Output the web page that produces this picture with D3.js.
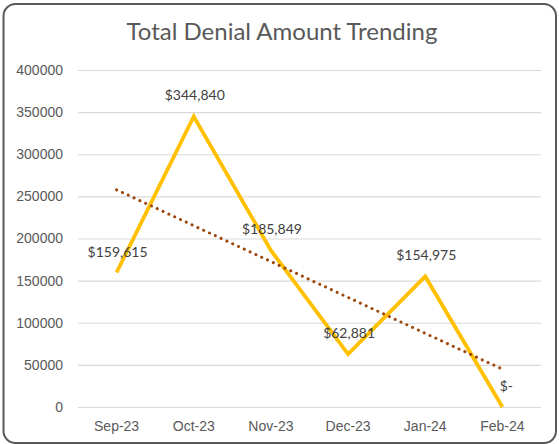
<!DOCTYPE html>
<html>
<head>
<meta charset="utf-8">
<script src="https://cdn.jsdelivr.net/npm/d3@7"></script>
<style>
  body { margin: 0; background: #fff; }
  svg { display: block; font-family: Lato, "Open Sans", sans-serif; }
</style>
</head>
<body>
<svg id="chart"></svg>
<script>
var width = 559;
var height = 444;

var months = ["Sep-23", "Oct-23", "Nov-23", "Dec-23", "Jan-24", "Feb-24"];
var amounts = [159615, 344840, 185849, 62881, 154975, 0];
var labels = ["$159,615", "$344,840", "$185,849", "$62,881", "$154,975", "$-"];
var yTicks = [0, 50000, 100000, 150000, 200000, 250000, 300000, 350000, 400000];

var margin = {left: 78, right: 18, top: 70, bottom: 37};

var svg = d3.select('#chart')
	.attr('width', width)
	.attr('height', height);

// chart frame
svg.append('rect')
	.attr('x', 3.5)
	.attr('y', 4)
	.attr('width', width - 6.5)
	.attr('height', 439)
	.attr('rx', 12)
	.attr('fill', '#fff')
	.attr('stroke', '#595959')
	.attr('stroke-width', 2);

var xScale = d3.scaleBand()
	.domain(months)
	.range([margin.left, width - margin.right]);

var yScale = d3.scaleLinear()
	.domain([0, 400000])
	.range([height - margin.bottom, margin.top]);

var xc = d => xScale(d) + xScale.bandwidth() / 2;

// gridlines + y labels
var yAxis = d3.axisLeft(yScale)
	.tickValues(yTicks)
	.tickFormat(d3.format('d'))
	.tickSize(-(width - margin.right - margin.left))
	.tickPadding(15);

svg.append('g')
	.attr('transform', 'translate(' + margin.left + ',0)')
	.call(yAxis)
	.call(g => g.select('.domain').remove())
	.call(g => g.selectAll('line').attr('stroke', '#d9d9d9').attr('stroke-width', 1.2))
	.call(g => g.selectAll('text').attr('fill', '#595959').style('font-size', '14px'));

var xAxis = d3.axisBottom(xScale).tickSize(0).tickPadding(14);

svg.append('g')
	.attr('transform', 'translate(0,' + (height - margin.bottom) + ')')
	.call(xAxis)
	.call(g => g.select('.domain').remove())
	.call(g => g.selectAll('text').attr('fill', '#595959').style('font-size', '14px'));

// title
svg.append('text')
	.attr('x', 282)
	.attr('y', 40)
	.attr('text-anchor', 'middle')
	.attr('fill', '#595959')
	.style('font-size', '24px')
	.text('Total Denial Amount Trending');

var data = months.map((m, i) => ({month: m, value: amounts[i], label: labels[i]}));

// main line
var line = d3.line()
	.x(d => xc(d.month))
	.y(d => yScale(d.value));

svg.append('path')
	.datum(data)
	.attr('d', line)
	.attr('fill', 'none')
	.attr('stroke', '#FFC000')
	.attr('stroke-width', 3.8)
	.attr('stroke-linejoin', 'miter');

// linear trendline (least squares over the six points)
var n = amounts.length;
var xs = d3.range(1, n + 1);
var mx = d3.mean(xs);
var my = d3.mean(amounts);
var slope = d3.sum(xs, (x, i) => (x - mx) * (amounts[i] - my)) / d3.sum(xs, x => (x - mx) * (x - mx));
var icpt = my - slope * mx;
var trend = [data[0], data[n - 1]].map(d => ({month: d.month, value: icpt + slope * (months.indexOf(d.month) + 1)}));

svg.append('path')
	.datum(trend)
	.attr('d', line)
	.attr('fill', 'none')
	.attr('stroke', '#9E480E')
	.attr('stroke-width', 3)
	.attr('stroke-linecap', 'round')
	.attr('stroke-dasharray', '0.1,6.3');

// data labels, centred above each point
svg.append('g')
	.selectAll('text')
	.data(data)
	.enter()
	.append('text')
		.attr('x', d => xc(d.month) + (d.value === 0 ? 4 : 1))
		.attr('y', d => yScale(d.value) - 16)
		.attr('text-anchor', 'middle')
		.attr('fill', '#404040')
		.style('font-size', '14px')
		.text(d => d.label);
</script>
</body>
</html>
